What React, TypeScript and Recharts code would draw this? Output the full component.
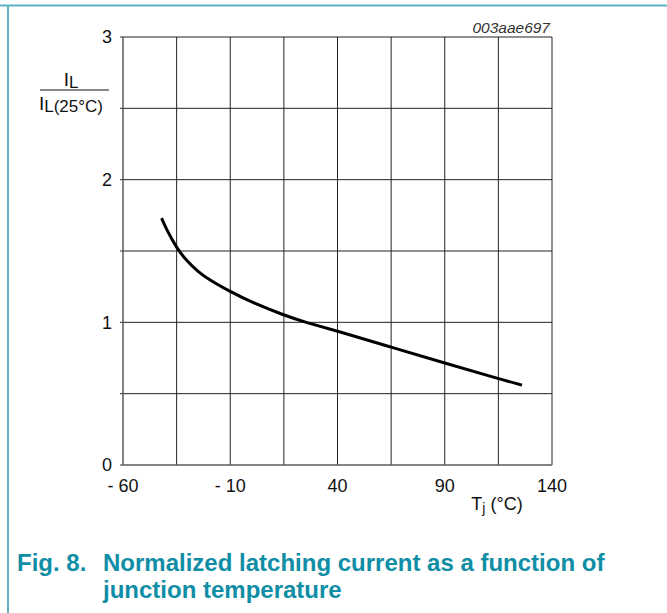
import React from 'react';
import { LineChart, Line, XAxis, YAxis, CartesianGrid } from 'recharts';

// junction temperature (°C) and normalized latching current IL / IL(25°C)
const temps = [-42, -40, -35, -30, -25, -20, -10, 0, 15, 25, 40, 65, 90, 115, 126];
const ratio = [1.73, 1.66, 1.52, 1.425, 1.355, 1.3, 1.215, 1.14, 1.05, 1.0, 0.94, 0.825, 0.715, 0.605, 0.56];

const xTicks = [-60, -35, -10, 15, 40, 65, 90, 115, 140];
const yTicks = [0, 0.5, 1, 1.5, 2, 2.5, 3];

const data = temps.map((t, i) => ({ t, r: ratio[i] }));

const FONT = '"Liberation Sans", Arial, sans-serif';
const TEAL = '#0f8ea6';

const fmtX = (v: number) => {
  if ((v + 60) % 50 !== 0) return '';
  return v < 0 ? `- ${Math.abs(v)}` : String(v);
};
const fmtY = (v: number) => (Number.isInteger(v) ? String(v) : '');

export default function App() {
  return (
    <div style={{ position: 'absolute', left: 0, top: 0, width: 667, height: 613, background: '#fff', fontFamily: FONT }}>
      <LineChart
        width={667}
        height={613}
        data={data}
        margin={{ top: 37, right: 115, bottom: 118, left: 0 }}
      >
        <CartesianGrid stroke="#222" strokeWidth={1} />
        <XAxis
          dataKey="t"
          type="number"
          domain={[-60, 140]}
          ticks={xTicks}
          tickFormatter={fmtX}
          interval={0}
          height={30}
          tickLine={false}
          tickSize={0}
          tickMargin={14}
          axisLine={{ stroke: '#777' }}
          tick={{ fill: '#111', fontSize: 18, fontFamily: FONT }}
        />
        <YAxis
          type="number"
          domain={[0, 3]}
          ticks={yTicks}
          tickFormatter={fmtY}
          interval={0}
          width={123}
          tickSize={3}
          tickMargin={8}
          tickLine={{ stroke: '#333' }}
          axisLine={{ stroke: '#777' }}
          tick={{ fill: '#111', fontSize: 18, fontFamily: FONT }}
        />
        <Line
          dataKey="r"
          type="basis"
          stroke="#000"
          strokeWidth={3}
          dot={false}
          isAnimationActive={false}
        />
      </LineChart>
      <svg
        width={667}
        height={613}
        style={{ position: 'absolute', left: 0, top: 0, pointerEvents: 'none' }}
        fontFamily={FONT}
      >
        <line x1={0} y1={5.5} x2={667} y2={5.5} stroke="#5fb3c4" strokeWidth={2} />
        <line x1={8} y1={5} x2={8} y2={613} stroke="#5fb3c4" strokeWidth={2} />
        <text x={550} y={33} textAnchor="end" fontSize={15.5} fontStyle="italic" fill="#333">003aae697</text>
        <text x={71} y={86} textAnchor="middle" fontSize={19} fill="#111">
          I<tspan fontSize={17} dy={2}>L</tspan>
        </text>
        <line x1={40} y1={90} x2={109} y2={90} stroke="#111" strokeWidth={1} />
        <text x={71} y={110} textAnchor="middle" fontSize={19} fill="#111">
          I<tspan fontSize={17} dy={2}>L(25°C)</tspan>
        </text>
        <text x={497} y={510} textAnchor="middle" fontSize={18} fill="#111">
          T<tspan fontSize={14} dy={3}>j</tspan><tspan dy={-3}> (°C)</tspan>
        </text>
        <text x={17} y={571} fontSize={24} fontWeight="bold" fill={TEAL}>Fig. 8.</text>
        <text x={103} y={571} fontSize={24} fontWeight="bold" fill={TEAL}>Normalized latching current as a function of</text>
        <text x={103} y={598} fontSize={24} fontWeight="bold" fill={TEAL}>junction temperature</text>
      </svg>
    </div>
  );
}
